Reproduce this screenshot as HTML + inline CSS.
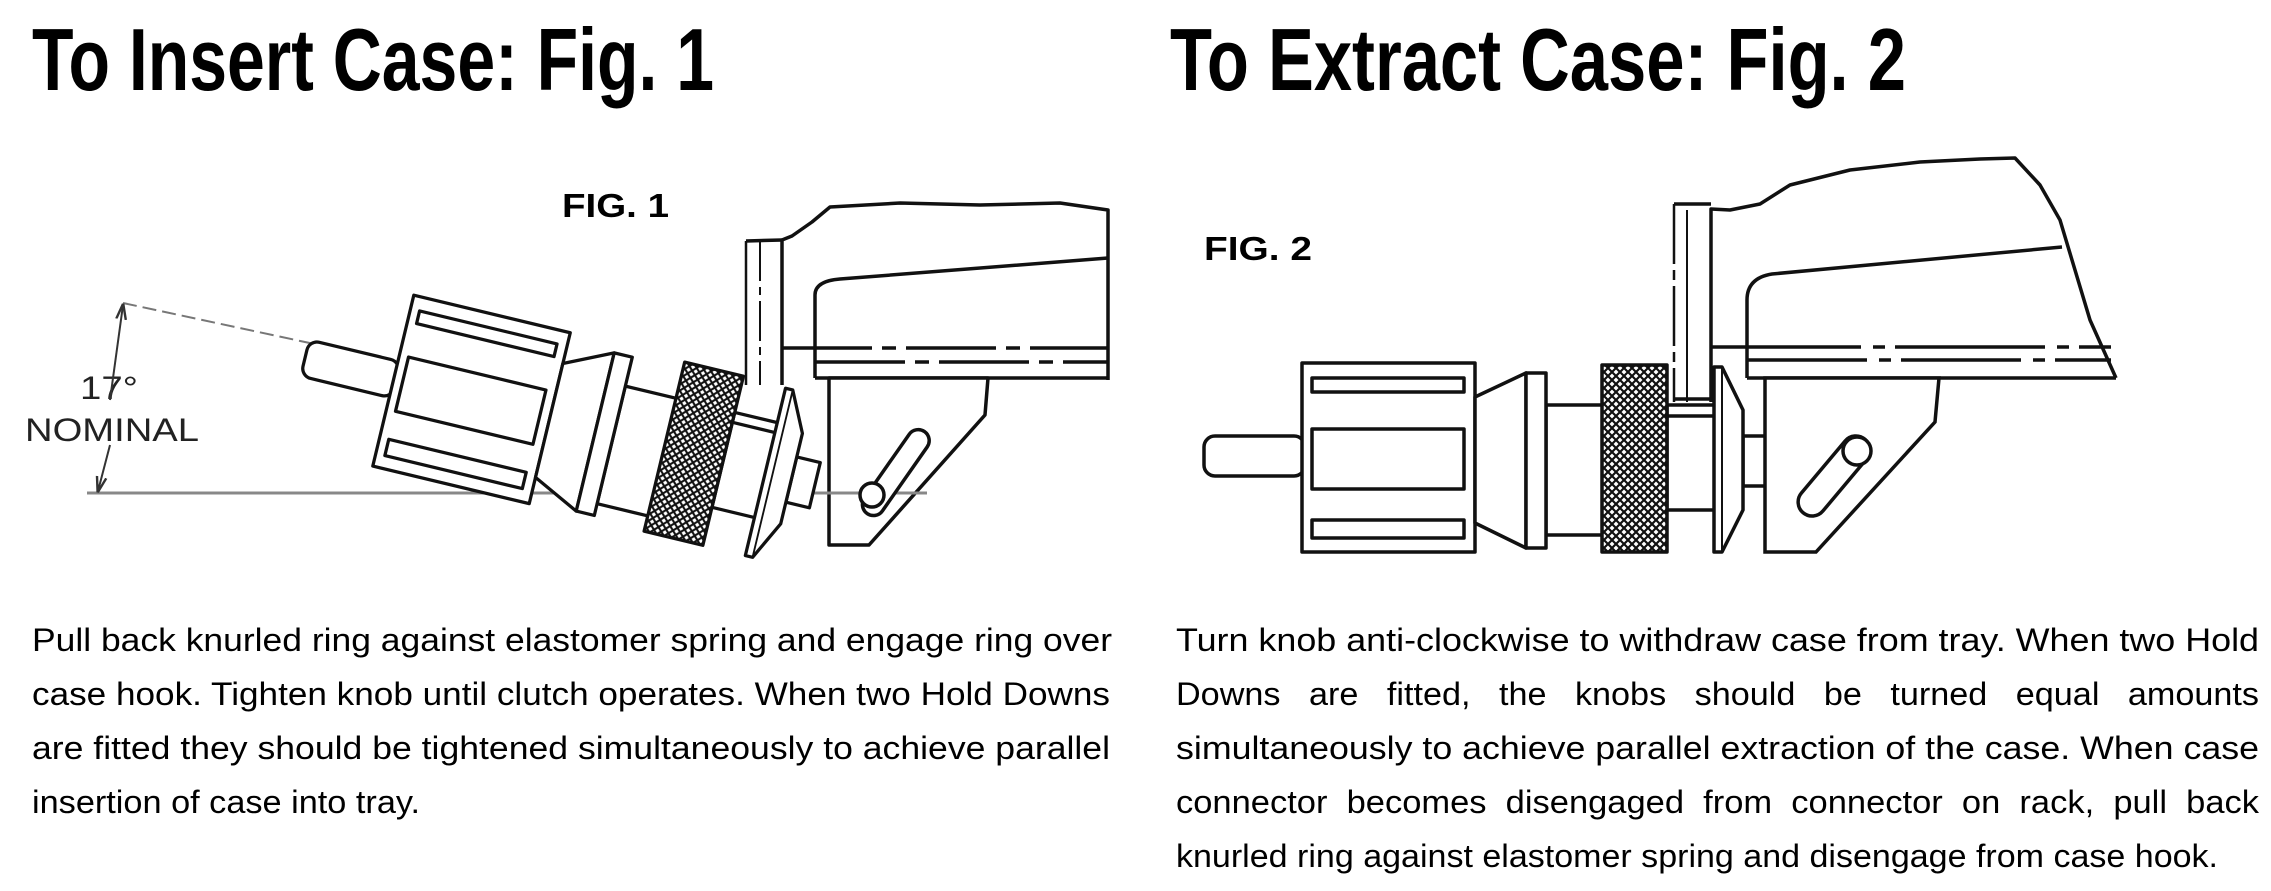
<!DOCTYPE html>
<html><head><meta charset="utf-8"><style>
html,body{margin:0;padding:0;background:#fff;}
svg{display:block;}
</style></head><body>
<svg width="2271" height="891" viewBox="0 0 2271 891" xmlns="http://www.w3.org/2000/svg">
<defs>
<pattern id="kn" width="8" height="8" patternUnits="userSpaceOnUse">
<rect width="8" height="8" fill="#fff"/>
<path d="M0,0 L8,8 M8,0 L0,8" stroke="#111" stroke-width="2.2"/>
</pattern>
<marker id="ar" viewBox="0 0 10 10" refX="9" refY="5" markerWidth="8" markerHeight="8" orient="auto"><path d="M0,2 L10,5 L0,8" fill="none" stroke="#333" stroke-width="1.5"/></marker>
<g id="conn" stroke="#111" stroke-width="3.5" fill="#fff" stroke-linejoin="round">
<rect x="1743" y="436" width="26" height="50"/>
<rect x="1667" y="405" width="50" height="105"/>
<line x1="1667" y1="416" x2="1714" y2="416"/>
<rect x="1546" y="405" width="58" height="130"/>
<rect x="1204" y="436" width="101" height="40" rx="11"/>
<rect x="1302" y="363" width="173" height="189"/>
<rect x="1312" y="378" width="152" height="14"/>
<rect x="1312" y="429" width="152" height="60"/>
<rect x="1312" y="520" width="152" height="18"/>
<polygon points="1475,397 1526,373 1526,548 1475,523"/>
<rect x="1526" y="373" width="20" height="175"/>
<rect x="1602" y="365" width="65" height="187" fill="url(#kn)"/>
<polygon points="1714,367 1722,367 1743,410 1743,510 1722,552 1714,552"/>
<line x1="1722" y1="367" x2="1722" y2="552" stroke-width="2"/>
</g>
</defs>

<g font-family="'Liberation Sans', Arial, sans-serif" fill="#000">
<text x="32" y="90" font-size="88" font-weight="bold" textLength="682" lengthAdjust="spacingAndGlyphs">To Insert Case: Fig. 1</text>
<text x="1170" y="90" font-size="88" font-weight="bold" textLength="736" lengthAdjust="spacingAndGlyphs">To Extract Case: Fig. 2</text>

<text x="562" y="217" font-size="33" font-weight="bold" textLength="107" lengthAdjust="spacingAndGlyphs">FIG. 1</text>
<text x="1204" y="260" font-size="33" font-weight="bold" textLength="108" lengthAdjust="spacingAndGlyphs">FIG. 2</text>
<text x="80" y="399" font-size="32" fill="#222" textLength="58" lengthAdjust="spacingAndGlyphs">17°</text>
<text x="25" y="441" font-size="32" fill="#222" textLength="174" lengthAdjust="spacingAndGlyphs">NOMINAL</text>

<g font-size="32">
<text x="32" y="651" textLength="1080" lengthAdjust="spacingAndGlyphs">Pull back knurled ring against elastomer spring and engage ring over</text>
<text x="32" y="705" textLength="1078" lengthAdjust="spacingAndGlyphs">case hook.  Tighten knob until clutch operates.  When two Hold Downs</text>
<text x="32" y="759" textLength="1078" lengthAdjust="spacingAndGlyphs">are fitted they should be tightened simultaneously to achieve parallel</text>
<text x="32" y="813" textLength="388" lengthAdjust="spacingAndGlyphs">insertion of case into tray.</text>

<text x="1176" y="651" textLength="1083" lengthAdjust="spacingAndGlyphs">Turn knob anti-clockwise to withdraw case from tray. When two Hold</text>
<text x="1176" y="705" textLength="1083" lengthAdjust="spacingAndGlyphs" xml:space="preserve">Downs   are   fitted,   the   knobs   should   be   turned   equal   amounts</text>
<text x="1176" y="759" textLength="1083" lengthAdjust="spacingAndGlyphs">simultaneously to achieve parallel extraction of the case. When case</text>
<text x="1176" y="813" textLength="1083" lengthAdjust="spacingAndGlyphs" xml:space="preserve">connector  becomes  disengaged  from  connector  on  rack,  pull  back</text>
<text x="1176" y="867" textLength="1042" lengthAdjust="spacingAndGlyphs">knurled ring against elastomer spring and disengage from case hook.</text>
</g>
</g>

<!-- FIG 1 -->
<g fill="none" stroke="#111" stroke-width="3.5" stroke-linejoin="round">
<path d="M782,385 V240 L792,236 L812,222 L830,207 L900,203 L980,205 L1060,203 L1108,210 V380" />
<path d="M815,378 V295 Q815,281 840,279 L1108,258"/>
<line x1="782" y1="348" x2="1108" y2="348" stroke-dasharray="90,10,14,10"/>
<line x1="815" y1="362" x2="1108" y2="362" stroke-dasharray="90,10,14,10"/>
<line x1="815" y1="378" x2="1108" y2="378"/>
<line x1="746" y1="241" x2="746" y2="385" stroke-width="2.5"/>
<line x1="746" y1="241" x2="782" y2="240"/>
<line x1="760" y1="241" x2="760" y2="385" stroke-width="2" stroke-dasharray="40,6,8,6"/>
<polygon points="829,378 988,378 985,415 869,545 829,545" fill="#fff"/>
</g>
<line x1="87" y1="493" x2="927" y2="493" stroke="#888" stroke-width="3"/>
<line x1="123" y1="303" x2="319" y2="345" stroke="#777" stroke-width="2" stroke-dasharray="14,6"/>
<line x1="110" y1="400" x2="123" y2="305" stroke="#333" stroke-width="2" marker-end="url(#ar)"/>
<line x1="110" y1="445" x2="98" y2="491" stroke="#333" stroke-width="2" marker-end="url(#ar)"/>
<use href="#conn" transform="translate(305,358) rotate(13.5) scale(0.93) translate(-1204,-456)"/>
<g fill="#fff" stroke="#111" stroke-width="3.5">
<rect x="-10" y="-50" width="22" height="100" rx="11" transform="translate(895,472) rotate(35)"/>
<circle cx="872" cy="495" r="12"/>
</g>

<!-- FIG 2 -->
<g fill="none" stroke="#111" stroke-width="3.5" stroke-linejoin="round">
<path d="M1711,402 V209 L1730,210 L1760,204 L1790,185 L1850,170 L1920,162 L1980,159 L2015,158 L2040,185 L2060,220 L2075,270 L2090,320 L2116,378"/>
<path d="M1747,378 V300 Q1747,278 1772,274 L2062,247"/>
<line x1="1711" y1="347" x2="2111" y2="347" stroke-dasharray="150,12,12,10"/>
<line x1="1747" y1="360" x2="2111" y2="360" stroke-dasharray="120,12,12,10"/>
<line x1="1747" y1="378" x2="2116" y2="378"/>
<line x1="1674" y1="204" x2="1674" y2="402" stroke-width="2.5" stroke-dasharray="60,6,10,6"/>
<line x1="1674" y1="204" x2="1711" y2="204"/>
<line x1="1687" y1="210" x2="1687" y2="402" stroke-width="2"/>
<line x1="1674" y1="399" x2="1711" y2="399"/>
</g>
<use href="#conn"/>
<g fill="#fff" stroke="#111" stroke-width="3.5">
<polygon points="1765,378 1939,378 1935,422 1816,552 1765,552"/>
<rect x="-14" y="-48" width="28" height="96" rx="14" transform="translate(1834,476) rotate(40)"/>
<circle cx="1857" cy="451" r="14"/>
</g>
</svg>
</body></html>
